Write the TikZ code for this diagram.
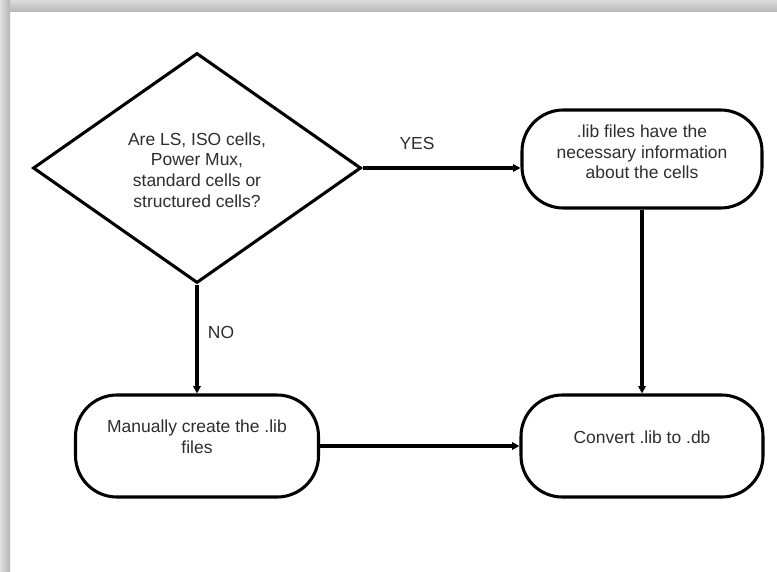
\documentclass[tikz,border=0pt]{standalone}
\usepackage{fontspec}
\setmainfont{Liberation Sans}
\usetikzlibrary{shapes.geometric,arrows.meta}
\definecolor{txt}{HTML}{2E2E2E}
\tikzset{
  % one unit = one pixel, y grows downwards
  x=0.75pt, y=-0.75pt,
  flowline/.style={line width=2.3pt, draw=black},
  arr/.style={flowline, -{Triangle[length=5.5pt,width=5.5pt]}},
  decision/.style={diamond, flowline, inner sep=0pt,
    minimum width=246pt, minimum height=172.5pt},
  termbox/.style={rectangle, flowline, rounded corners=31pt, inner sep=0pt},
  label/.style={font=\fontsize{13.1pt}{15.5pt}\selectfont, text=txt, align=center, inner sep=0pt},
}
\begin{document}
\begin{tikzpicture}
\useasboundingbox (0,0) rectangle (777,571);
\fill[white] (0,0) rectangle (777,571);
% soft frame shadow along the top and left edges
\shade[top color=black!14, bottom color=black!27] (0,0) rectangle (777,11);
\shade[left color=black!12, right color=black!29] (0,0) rectangle (10,571);

% decision
\node[decision] (q) at (197,168) {};
\node[label] at (197,170) {Are LS, ISO cells,\\Power Mux,\\standard cells or\\structured cells?};

% process boxes
\node[termbox, minimum width=180pt, minimum height=73.5pt] (info) at (642,159) {};
\node[label] at (642,152) {.lib files have the\\necessary information\\about the cells};

\node[termbox, minimum width=182.25pt, minimum height=76.5pt] (manual) at (197,446) {};
\node[label] at (197,436.5) {Manually create the .lib\\files};

\node[termbox, minimum width=181.5pt, minimum height=76.5pt] (conv) at (642,446) {};
\node[label] at (642,437) {Convert .lib to .db};

% connectors
\draw[arr] (q.east) -- (q.east -| info.west);
\draw[arr] (q.south) -- (manual.north);
\draw[arr] (info.south) -- (conv.north);
\draw[arr] (manual.east) -- (conv.west);

% branch labels
\node[label] (yes) at (417,143) {YES};
\node[label] (no) at (221,332) {NO};
\end{tikzpicture}
\end{document}
